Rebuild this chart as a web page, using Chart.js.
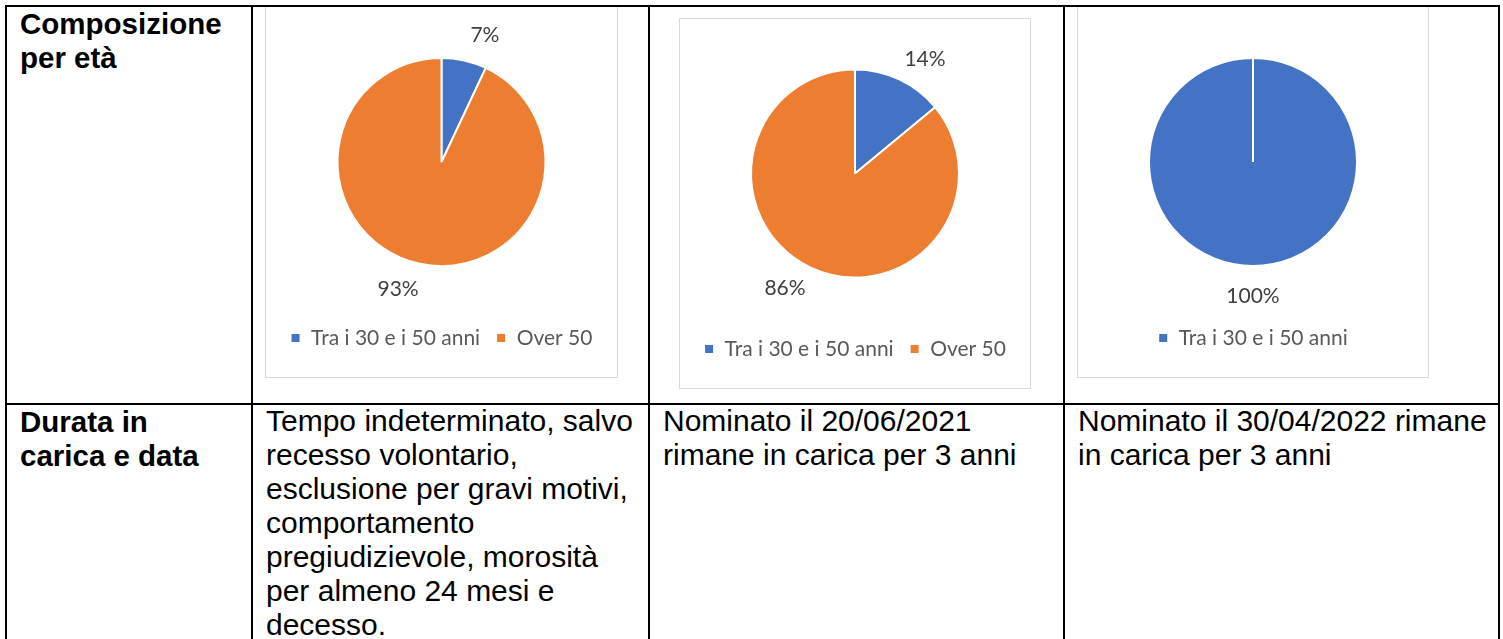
<!DOCTYPE html>
<html>
<head>
<meta charset="utf-8">
<script src="https://cdn.jsdelivr.net/npm/chart.js@4.4.1/dist/chart.umd.min.js"></script>
<style>
	body { margin: 0; background: #fff; width: 1503px; height: 639px; overflow: hidden; position: relative; }
	.line { position: absolute; background: #000; z-index: 5; }
	.box { position: absolute; border: 1px solid #d9d9d9; background: #fff; }
	.box canvas { display: block; }
	.txt { position: absolute; font-family: 'Liberation Sans', Arial, sans-serif; font-size: 30px; line-height: 34px; color: #000; white-space: nowrap; }
	.txt.head { font-weight: bold; font-size: 29.5px; line-height: 34px; }
</style>
</head>
<body>

<!-- table grid -->
<div class="line" style="left:5px;top:5px;width:1495px;height:2px"></div>
<div class="line" style="left:5px;top:403px;width:1495px;height:2px"></div>
<div class="line" style="left:5px;top:5px;width:2px;height:634px"></div>
<div class="line" style="left:251px;top:5px;width:2px;height:634px"></div>
<div class="line" style="left:648px;top:5px;width:2px;height:634px"></div>
<div class="line" style="left:1063px;top:5px;width:2px;height:634px"></div>
<div class="line" style="left:1498px;top:5px;width:2px;height:634px"></div>

<!-- chart boxes -->
<div class="box" style="left:265px;top:6px"><canvas id="chart1" width="351" height="370"></canvas></div>
<div class="box" style="left:679px;top:18px"><canvas id="chart2" width="350" height="369"></canvas></div>
<div class="box" style="left:1077px;top:6px"><canvas id="chart3" width="350" height="370"></canvas></div>

<!-- texts -->
<div class="txt head" style="left:20px;top:7px">Composizione<br>per età</div>
<div class="txt head" style="left:20px;top:405px">Durata in<br>carica e data</div>
<div class="txt" style="left:266px;top:404px">Tempo indeterminato, salvo<br>recesso volontario,<br>esclusione per gravi motivi,<br>comportamento<br>pregiudizievole, morosità<br>per almeno 24 mesi e<br>decesso.</div>
<div class="txt" style="left:663px;top:404px">Nominato il 20/06/2021<br>rimane in carica per 3 anni</div>
<div class="txt" style="left:1078px;top:404px">Nominato il 30/04/2022 rimane<br>in carica per 3 anni</div>

<script>
// values (percentages)
const ageLabels = ['Tra i 30 e i 50 anni', 'Over 50'];
const chart1Values = [7, 93];
const chart2Values = [14, 86];
const chart3Labels = ['Tra i 30 e i 50 anni'];
const chart3Values = [100];
const ageColors = ['#4472C4', '#ED7D31'];

// percentage labels outside the slices, like excel's best fit
const outsideLabels = {
	id: 'outsideLabels',
	afterDatasetsDraw(chart) {
		const ctx = chart.ctx;
		const meta = chart.getDatasetMeta(0);
		const values = chart.data.datasets[0].data;
		const total = values.reduce((a, b) => a + b, 0);
		ctx.save();
		ctx.font = '21px Lato';
		ctx.fillStyle = '#404040';
		ctx.textAlign = 'center';
		ctx.textBaseline = 'middle';
		meta.data.forEach((arc, i) => {
			const p = arc.getProps(['x', 'y', 'startAngle', 'endAngle', 'outerRadius'], true);
			let mid = (p.startAngle + p.endAngle) / 2;
			if (values[i] < total) mid += 0.11;
			const d = p.outerRadius + 30;
			ctx.fillText(values[i] + '%', p.x + Math.cos(mid) * d, p.y + Math.sin(mid) * d);
		});
		ctx.restore();
	}
};

const makePie = (id, labels, values) => {
	return new Chart(document.getElementById(id), {
		type: 'pie',
		data: {
			labels: labels,
			datasets: [{
				data: values,
				backgroundColor: ageColors.slice(0, values.length),
				borderColor: '#ffffff',
				borderWidth: 2,
				radius: 104
			}]
		},
		options: {
			responsive: false,
			animation: false,
			layout: { padding: { top: 5.5, bottom: 18.5, left: 0, right: 0 } },
			plugins: {
				tooltip: { enabled: false },
				legend: {
					position: 'bottom',
					labels: {
						font: { family: 'Lato', size: 21 },
						color: '#595959',
						boxWidth: 10,
						boxHeight: 10,
						padding: 16
					}
				}
			}
		},
		plugins: [outsideLabels]
	});
};

makePie('chart1', ageLabels, chart1Values);
makePie('chart2', ageLabels, chart2Values);
makePie('chart3', chart3Labels, chart3Values);
</script>
</body>
</html>
